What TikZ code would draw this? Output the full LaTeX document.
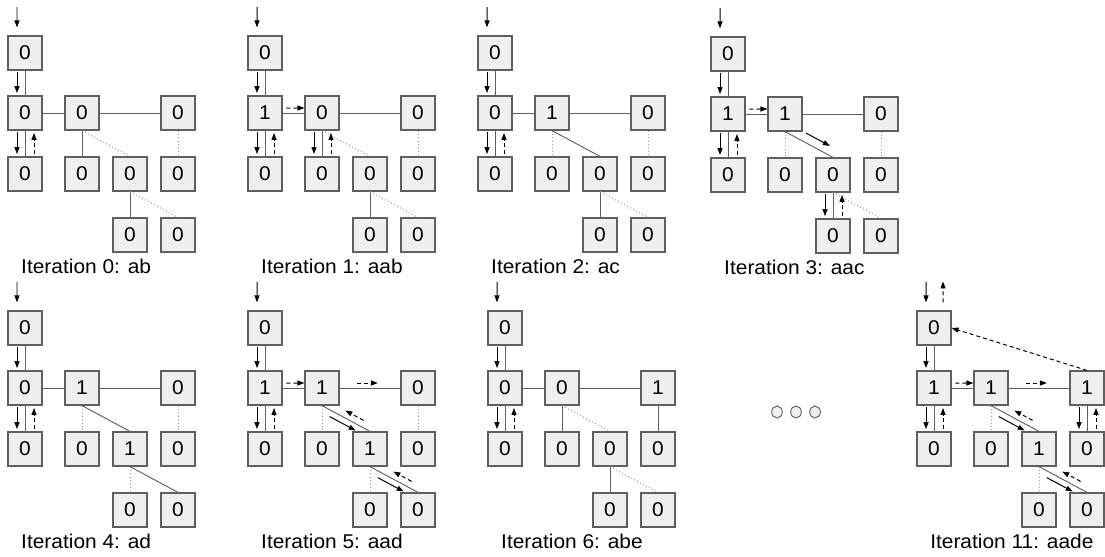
\documentclass[tikz,border=0pt]{standalone}
\usepackage{fontspec}
\setmainfont{Liberation Sans}[FakeStretch=1.05]
\usetikzlibrary{calc,arrows.meta}

\definecolor{boxfill}{HTML}{EFEFEF}
\definecolor{boxline}{HTML}{5F5F5F}
\definecolor{edgeon}{HTML}{5F5F5F}
\definecolor{edgeoff}{HTML}{9A9A9A}

\tikzset{
  cell/.style={draw=boxline, fill=boxfill, line width=1pt, minimum size=1.02cm,
    inner sep=0pt, font=\fontsize{17}{19}\selectfont},
  caption/.style={anchor=base west, inner sep=0pt, font=\fontsize{17}{19}\selectfont},
  link/.style={draw=edgeon, line width=.8pt},
  idle/.style={draw=edgeoff, line width=.8pt, dash pattern=on .9pt off 2pt},
  fwd/.style={-{Triangle[length=2.1mm,width=1.5mm]}, line width=.85pt},
  bwd/.style={fwd, dash pattern=on 1.2mm off .9mm},
}

% step down on the left of a link, step back up on its right
\newcommand{\godown}[2]{\draw[fwd] ([xshift=-.24cm,yshift=-.05cm]#1.south) -- ([xshift=-.24cm,yshift=.07cm]#2.north);}
\newcommand{\goup}[2]{\draw[bwd] ([xshift=.27cm,yshift=.07cm]#2.north) -- ([xshift=.27cm,yshift=-.07cm]#1.south);}
% same along a slanted link
\newcommand{\godiag}[2]{\draw[fwd] ($(#1.south)!.22!(#2.north)!.18cm!-90:(#2.north)$) -- ($(#1.south)!.76!(#2.north)!.18cm!-90:(#2.north)$);}
\newcommand{\updiag}[2]{\draw[bwd] ($(#1.south)!.80!(#2.north)!.2cm!90:(#2.north)$) -- ($(#1.south)!.42!(#2.north)!.2cm!90:(#2.north)$);}

% one trie: name, root position, counters of A, B, B1, C, caption
\newcommand{\trie}[7]{%
  \begin{scope}[shift={#2}]
    \node[cell] (#1R) at (0,0) {0};
    \node[cell] (#1A) at (0,60) {#3};
    \node[cell] (#1A0) at (0,121) {0};
    \node[cell] (#1B) at (57,60) {#4};
    \node[cell] (#1B0) at (57,121) {0};
    \node[cell] (#1B1) at (105,121) {#5};
    \node[cell] (#1C) at (153,60) {#6};
    \node[cell] (#1C0) at (153,121) {0};
    \node[cell] (#1B10) at (105,182) {0};
    \node[cell] (#1B11) at (153,182) {0};
    \node[caption] (#1cap) at (-4,220) {#7};
    \coordinate (#1in) at (-8,-46);
  \end{scope}
  \draw[link] (#1R) -- (#1A);
  \draw[link] (#1A) -- (#1A0);
  \draw[link] (#1A) -- (#1B);
  \draw[link] (#1B) -- (#1C);
  \draw[fwd] (#1in) -- ([xshift=-.24cm,yshift=.24cm]#1R.north);
  \godown{#1R}{#1A}
  \godown{#1A}{#1A0}\goup{#1A}{#1A0}}

\begin{document}
\begin{tikzpicture}[x=0.03cm, y=-0.03cm]
  \useasboundingbox (0,0) rectangle (1105,556);

  % top row
  \trie{p0}{(25,53)}{0}{0}{0}{0}{Iteration 0: ab}
  \foreach \u/\v/\s in {B/B0/link,B/B1/idle,C/C0/idle,B1/B10/link,B1/B11/idle}
    \draw[\s] (p0\u.south) -- (p0\v.north);

  \trie{p1}{(265,53)}{1}{0}{0}{0}{Iteration 1: aab}
  \foreach \u/\v/\s in {B/B0/link,B/B1/idle,C/C0/idle,B1/B10/link,B1/B11/idle}
    \draw[\s] (p1\u.south) -- (p1\v.north);
  \draw[bwd] ($(p1A.east)!.17!(p1B.west)+(0,-5)$) -- ($(p1B.west)+(0,-5)$);
  \godown{p1B}{p1B0}\goup{p1B}{p1B0}

  \trie{p2}{(495,53)}{0}{1}{0}{0}{Iteration 2: ac}
  \foreach \u/\v/\s in {B/B0/idle,B/B1/link,C/C0/idle,B1/B10/link,B1/B11/idle}
    \draw[\s] (p2\u.south) -- (p2\v.north);

  \trie{p3}{(728,54)}{1}{1}{0}{0}{Iteration 3: aac}
  \foreach \u/\v/\s in {B/B0/idle,B/B1/link,C/C0/idle,B1/B10/link,B1/B11/idle}
    \draw[\s] (p3\u.south) -- (p3\v.north);
  \draw[bwd] ($(p3A.east)!.17!(p3B.west)+(0,-5)$) -- ($(p3B.west)+(0,-5)$);
  \draw[fwd] ($(p3B.south)!.35!(p3B1.north)!.26cm!90:(p3B1.north)$) -- ($(p3B.south)!.85!(p3B1.north)!.26cm!90:(p3B1.north)$);
  \godown{p3B1}{p3B10}\goup{p3B1}{p3B10}

  % bottom row
  \trie{p4}{(25,328)}{0}{1}{1}{0}{Iteration 4: ad}
  \foreach \u/\v/\s in {B/B0/idle,B/B1/link,C/C0/idle,B1/B10/idle,B1/B11/link}
    \draw[\s] (p4\u.south) -- (p4\v.north);

  \trie{p5}{(265,328)}{1}{1}{1}{0}{Iteration 5: aad}
  \foreach \u/\v/\s in {B/B0/idle,B/B1/link,C/C0/idle,B1/B10/idle,B1/B11/link}
    \draw[\s] (p5\u.south) -- (p5\v.north);
  \draw[bwd] ($(p5A.east)!.17!(p5B.west)+(0,-5)$) -- ($(p5B.west)+(0,-5)$);
  \draw[bwd] ($(p5B.east)!.29!(p5C.west)+(0,-5)$) -- ($(p5B.east)!.63!(p5C.west)+(0,-5)$);
  \godiag{p5B}{p5B1}\updiag{p5B}{p5B1}
  \godiag{p5B1}{p5B11}\updiag{p5B1}{p5B11}

  \trie{p6}{(505,328)}{0}{0}{0}{1}{Iteration 6: abe}
  \foreach \u/\v/\s in {B/B0/link,B/B1/idle,C/C0/link,B1/B10/link,B1/B11/idle}
    \draw[\s] (p6\u.south) -- (p6\v.north);

  % skipped iterations
  \foreach \x in {777,796,815}
    \draw[draw=boxline, fill=boxfill, line width=.8pt] (\x,412) ellipse (.16cm and .18cm);

  \trie{p11}{(934,328)}{1}{1}{1}{1}{Iteration 11: aade}
  \foreach \u/\v/\s in {B/B0/idle,B/B1/link,C/C0/link,B1/B10/idle,B1/B11/link}
    \draw[\s] (p11\u.south) -- (p11\v.north);
  \coordinate (p11out) at ($(p11R.north)+(9,-29)$);
  \draw[bwd] ([xshift=.27cm,yshift=.24cm]p11R.north) -- (p11out);
  \draw[bwd] ($(p11A.east)!.17!(p11B.west)+(0,-5)$) -- ($(p11B.west)+(0,-5)$);
  \draw[bwd] ($(p11B.east)!.29!(p11C.west)+(0,-5)$) -- ($(p11B.east)!.63!(p11C.west)+(0,-5)$);
  \godiag{p11B}{p11B1}\updiag{p11B}{p11B1}
  \godiag{p11B1}{p11B11}\updiag{p11B1}{p11B11}
  \godown{p11C}{p11C0}\goup{p11C}{p11C0}
  \draw[bwd] (p11C.north) -- (p11R.east);
\end{tikzpicture}
\end{document}
